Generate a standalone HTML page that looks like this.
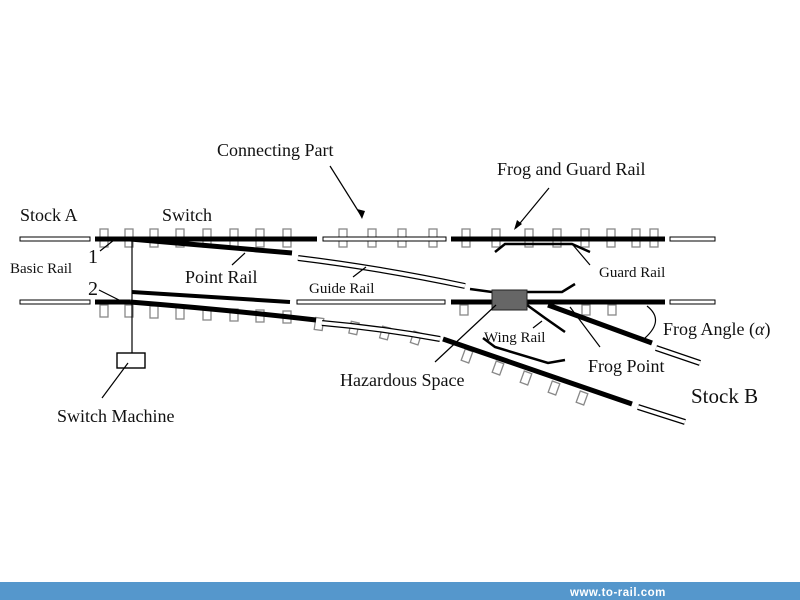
<!DOCTYPE html>
<html><head><meta charset="utf-8"><style>
html,body{margin:0;padding:0;background:#fff;}
svg{display:block;}
text{font-family:"Liberation Serif",serif;fill:#111;}
</style></head><body>
<svg width="800" height="600" viewBox="0 0 800 600" xmlns="http://www.w3.org/2000/svg">
<rect width="800" height="600" fill="#fff"/>
<!-- ties -->
<g fill="none" stroke="#888" stroke-width="1.3">
<rect x="100" y="229" width="8" height="18"/><rect x="125" y="229" width="8" height="18"/>
<rect x="150" y="229" width="8" height="18"/><rect x="176" y="229" width="8" height="18"/>
<rect x="203" y="229" width="8" height="18"/><rect x="230" y="229" width="8" height="18"/>
<rect x="256" y="229" width="8" height="18"/><rect x="283" y="229" width="8" height="18"/>
<rect x="339" y="229" width="8" height="18"/><rect x="368" y="229" width="8" height="18"/>
<rect x="398" y="229" width="8" height="18"/><rect x="429" y="229" width="8" height="18"/>
<rect x="462" y="229" width="8" height="18"/><rect x="492" y="229" width="8" height="18"/>
<rect x="525" y="229" width="8" height="18"/><rect x="553" y="229" width="8" height="18"/>
<rect x="581" y="229" width="8" height="18"/><rect x="607" y="229" width="8" height="18"/>
<rect x="632" y="229" width="8" height="18"/><rect x="650" y="229" width="8" height="18"/>
<rect x="100" y="305" width="8" height="12"/><rect x="125" y="305" width="8" height="12"/>
<rect x="150" y="306" width="8" height="12"/><rect x="176" y="307" width="8" height="12"/>
<rect x="203" y="308" width="8" height="12"/><rect x="230" y="309" width="8" height="12"/>
<rect x="256" y="310" width="8" height="12"/><rect x="283" y="311" width="8" height="12"/>
<rect x="315" y="318" width="8" height="12" transform="rotate(8 319 324)"/>
<rect x="350" y="322" width="8" height="12" transform="rotate(12 354 328)"/>
<rect x="381" y="327" width="8" height="12" transform="rotate(15 385 333)"/>
<rect x="412" y="332" width="8" height="12" transform="rotate(18 416 338)"/>
<rect x="460" y="305" width="8" height="10"/><rect x="582" y="305" width="8" height="10"/>
<rect x="608" y="305" width="8" height="10"/>
<rect x="463" y="350" width="8" height="12" transform="rotate(20 467 356)"/>
<rect x="494" y="362" width="8" height="12" transform="rotate(20 498 368)"/>
<rect x="522" y="372" width="8" height="12" transform="rotate(20 526 378)"/>
<rect x="550" y="382" width="8" height="12" transform="rotate(20 554 388)"/>
<rect x="578" y="392" width="8" height="12" transform="rotate(20 582 398)"/>
</g>
<!-- hollow rails -->
<g fill="#fff" stroke="#000" stroke-width="1">
<rect x="20" y="237" width="70" height="4"/><rect x="323" y="237" width="123" height="4"/>
<rect x="670" y="237" width="45" height="4"/>
<rect x="20" y="300" width="70" height="4"/><rect x="297" y="300" width="148" height="4"/>
<rect x="670" y="300" width="45" height="4"/>
</g>
<g fill="none" stroke="#000" stroke-width="6">
<path d="M298 258 Q380 268 465 286"/>
<path d="M322 323 Q380 328 440 339"/>
<path d="M638 407 L685 422"/>
<path d="M656 348 L700 363"/>
</g>
<g fill="none" stroke="#fff" stroke-width="3.5">
<path d="M298 258 Q380 268 465 286"/>
<path d="M322 323 Q380 328 440 339"/>
<path d="M638 407 L685 422"/>
<path d="M656 348 L700 363"/>
</g>
<!-- black rails -->
<g stroke="#000" fill="none">
<line x1="95" y1="239" x2="317" y2="239" stroke-width="5"/>
<line x1="451" y1="239" x2="665" y2="239" stroke-width="5"/>
<line x1="451" y1="302" x2="665" y2="302" stroke-width="5"/>
<line x1="95" y1="302" x2="130" y2="302" stroke-width="5"/>
<path d="M130 239 L292 253" stroke-width="5"/>
<path d="M132 292 L290 302" stroke-width="4"/>
<path d="M130 302 Q230 310 316 320" stroke-width="5"/>
<path d="M443 339 L632 404" stroke-width="5"/>
<path d="M548 305 L652 343" stroke-width="5"/>
<path d="M495 252 L505 244 L572 244 L590 252" stroke-width="2.5"/>
<path d="M470 289 L492 292 L562 292 L575 284" stroke-width="2.5"/>
<path d="M527 305 L545 318 L565 332" stroke-width="2.5"/>
<path d="M483 338 L495 347 L548 363 L565 360" stroke-width="2.5"/>
</g>
<rect x="492" y="290" width="35" height="20" fill="#666" stroke="#222"/>
<!-- leader lines -->
<g stroke="#000" stroke-width="1.2" fill="none">
<line x1="132" y1="239" x2="132" y2="353"/>
<rect x="117" y="353" width="28" height="15" stroke-width="1.4"/>
<line x1="128" y1="363" x2="102" y2="398"/>
<line x1="114" y1="240" x2="100" y2="251"/>
<line x1="99" y1="290" x2="123" y2="302"/>
<line x1="245" y1="253" x2="232" y2="265"/>
<line x1="366" y1="267" x2="353" y2="277"/>
<line x1="330" y1="166" x2="362" y2="217"/>
<line x1="549" y1="188" x2="516" y2="228"/>
<line x1="573" y1="245" x2="590" y2="265"/>
<line x1="496" y1="305" x2="435" y2="362"/>
<line x1="542" y1="321" x2="533" y2="328"/>
<line x1="570" y1="307" x2="600" y2="347"/>
<path d="M647 306 Q665 320 645 338"/>
</g>
<polygon points="362,219 357,209 365,211" fill="#000"/>
<polygon points="514,230 517,220 522,224" fill="#000"/>
<!-- labels -->
<text x="20" y="221" font-size="18">Stock A</text>
<text x="162" y="221" font-size="18">Switch</text>
<text x="217" y="156" font-size="18">Connecting Part</text>
<text x="497" y="175" font-size="18">Frog and Guard Rail</text>
<text x="10" y="273" font-size="15">Basic Rail</text>
<text x="88" y="263" font-size="20">1</text>
<text x="88" y="295" font-size="20">2</text>
<text x="185" y="283" font-size="18">Point Rail</text>
<text x="309" y="293" font-size="15">Guide Rail</text>
<text x="599" y="277" font-size="15">Guard Rail</text>
<text x="484" y="342" font-size="15">Wing Rail</text>
<text x="663" y="335" font-size="18">Frog Angle (<tspan font-style="italic">α</tspan>)</text>
<text x="588" y="372" font-size="18">Frog Point</text>
<text x="340" y="386" font-size="18">Hazardous Space</text>
<text x="691" y="403" font-size="21">Stock B</text>
<text x="57" y="422" font-size="18">Switch Machine</text>
<rect x="0" y="582" width="800" height="18" fill="#5597cc"/>
<text x="570" y="596" font-size="11.5" font-weight="bold" style="font-family:'Liberation Sans',sans-serif;fill:#fff;letter-spacing:0.5px">www.to-rail.com</text>
</svg>
</body></html>
